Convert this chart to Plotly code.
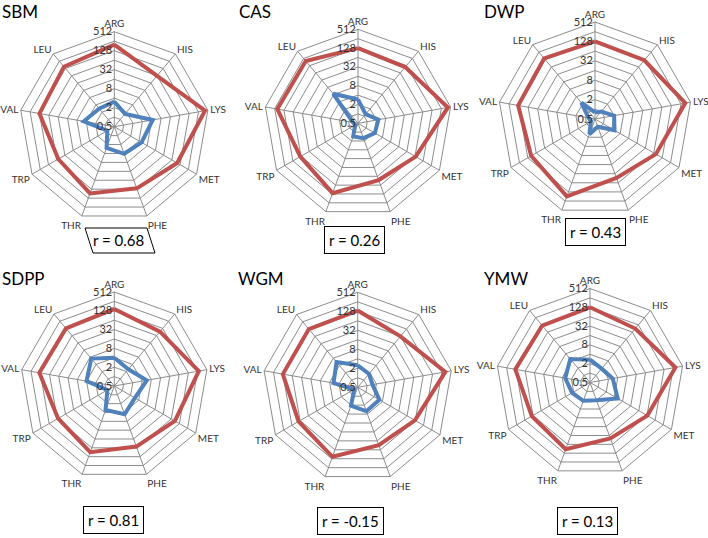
import numpy as np
import plotly.graph_objects as go

W, H = 708, 538

categories = ["ARG", "HIS", "LYS", "MET", "PHE", "THR", "TRP", "VAL", "LEU"]
tick_vals = [0.5, 1, 2, 4, 8, 16, 32, 64, 128, 256, 512]
tick_text = ["0.5", "", "2", "", "8", "", "32", "", "128", "", "512"]

panel_names = ["SBM", "CAS", "DWP", "SDPP", "WGM", "YMW"]
r_values = ["0.68", "0.26", "0.43", "0.81", "-0.15", "0.13"]

sbm_red = [200, 64, 415, 100, 60, 89, 56, 128, 152]
sbm_blue = [3.1, 1.7, 8.6, 5.0, 4.1, 2.6, 0.9, 4.8, 2.8]
cas_red = [128, 112, 420, 68, 43, 120, 68, 210, 200]
cas_blue = [2.9, 1.2, 2.3, 2.1, 1.6, 1.4, 0.64, 0.72, 8.6]
dwp_red = [128, 120, 350, 76, 44, 180, 97, 132, 142]
dwp_blue = [0.8, 1.0, 2.0, 2.5, 0.9, 1.6, 0.7, 0.8, 2.3]
sdpp_red = [147, 94, 280, 87, 58, 90, 60, 137, 128]
sdpp_blue = [4.0, 2.5, 5.7, 2.9, 4.6, 3.3, 0.9, 4.0, 7.0]
wgm_red = [135, 64, 330, 62, 45, 110, 73, 128, 128]
wgm_blue = [2.5, 1.8, 1.5, 3.1, 3.2, 2.1, 0.67, 3.0, 5.5]
ymw_red = [128, 90, 300, 66, 40, 94, 71, 134, 120]
ymw_blue = [2.7, 1.9, 2.75, 5.3, 2.0, 2.1, 2.3, 3.2, 4.8]

red_series = [sbm_red, cas_red, dwp_red, sdpp_red, wgm_red, ymw_red]
blue_series = [sbm_blue, cas_blue, dwp_blue, sdpp_blue, wgm_blue, ymw_blue]

# layout geometry (pixels): center x, center y, radius
geom = [(114.3, 126.7, 95), (358.0, 123.3, 94), (595.0, 119.0, 97),
        (114.3, 386.0, 94), (357.7, 387.3, 95), (590.0, 382.5, 94)]
title_pos = [(0, 11), (237, 11), (482, 12), (0, 278), (236, 278), (482, 278)]
box_pos = [(118, 240), (355, 240), (595, 232), (113, 520), (350, 521), (587, 521)]

RED = "#C0504D"
BLUE = "#4F81BD"
GRID = "#8c8c8c"
FONT = "Lato, Open Sans, sans-serif"

fig = go.Figure()
layout = dict(width=W, height=H, margin=dict(l=0, r=0, t=0, b=0),
              paper_bgcolor="white", plot_bgcolor="white", showlegend=False)

annotations = []
shapes = []
for i in range(6):
    pid = "polar" if i == 0 else f"polar{i+1}"
    cx, cy, R = geom[i]
    dom = dict(x=[(cx - R) / W, (cx + R) / W], y=[1 - (cy + R) / H, 1 - (cy - R) / H])
    layout[pid] = dict(
        domain=dom,
        bgcolor="white",
        gridshape="linear",
        radialaxis=dict(type="log", range=[np.log10(0.5), np.log10(512)],
                        tickvals=tick_vals, ticktext=tick_text, angle=90,
                        tickangle=90, side="counterclockwise",
                        showline=False, gridcolor=GRID, gridwidth=1,
                        ticks="", tickfont=dict(size=11, color="#333", family=FONT)),
        angularaxis=dict(direction="clockwise", rotation=90, categoryorder="array",
                         categoryarray=categories, gridcolor=GRID, linecolor=GRID,
                         linewidth=1, showline=True, ticks="",
                         tickfont=dict(size=10, color="#333", family=FONT)),
    )
    theta = categories + [categories[0]]
    fig.add_trace(go.Scatterpolar(r=red_series[i] + [red_series[i][0]], theta=theta,
                                  mode="lines", line=dict(color=RED, width=4),
                                  subplot=pid, hoverinfo="skip"))
    fig.add_trace(go.Scatterpolar(r=blue_series[i] + [blue_series[i][0]], theta=theta,
                                  mode="lines", line=dict(color=BLUE, width=4),
                                  subplot=pid, hoverinfo="skip"))
    tx, ty = title_pos[i]
    annotations.append(dict(text=panel_names[i], x=tx / W, y=1 - ty / H, xref="paper",
                            yref="paper", xanchor="left", yanchor="middle",
                            showarrow=False, font=dict(size=17, color="black", family=FONT)))
    bx, by = box_pos[i]
    if i == 0:
        annotations.append(dict(text="r = " + r_values[i], x=bx / W, y=1 - by / H,
                                xref="paper", yref="paper", showarrow=False,
                                xanchor="center", yanchor="middle",
                                font=dict(size=15, color="black", family=FONT)))
        # slanted box
        pts = [(85, 228), (147, 228), (155, 253), (93, 253)]
        path = "M " + " L ".join(f"{px / W},{1 - py / H}" for px, py in pts) + " Z"
        shapes.append(dict(type="path", path=path, xref="paper", yref="paper",
                           line=dict(color="black", width=1)))
    else:
        annotations.append(dict(text="r = " + r_values[i], x=bx / W, y=1 - by / H,
                                xref="paper", yref="paper", showarrow=False,
                                xanchor="center", yanchor="middle",
                                bordercolor="black", borderwidth=1, borderpad=4,
                                bgcolor="white",
                                font=dict(size=15, color="black", family=FONT)))

layout["annotations"] = annotations
layout["shapes"] = shapes
fig.update_layout(**layout)
fig.write_html("out.html", config={"displayModeBar": False},
               post_script="document.body.style.margin='0';document.body.style.overflow='hidden';")
